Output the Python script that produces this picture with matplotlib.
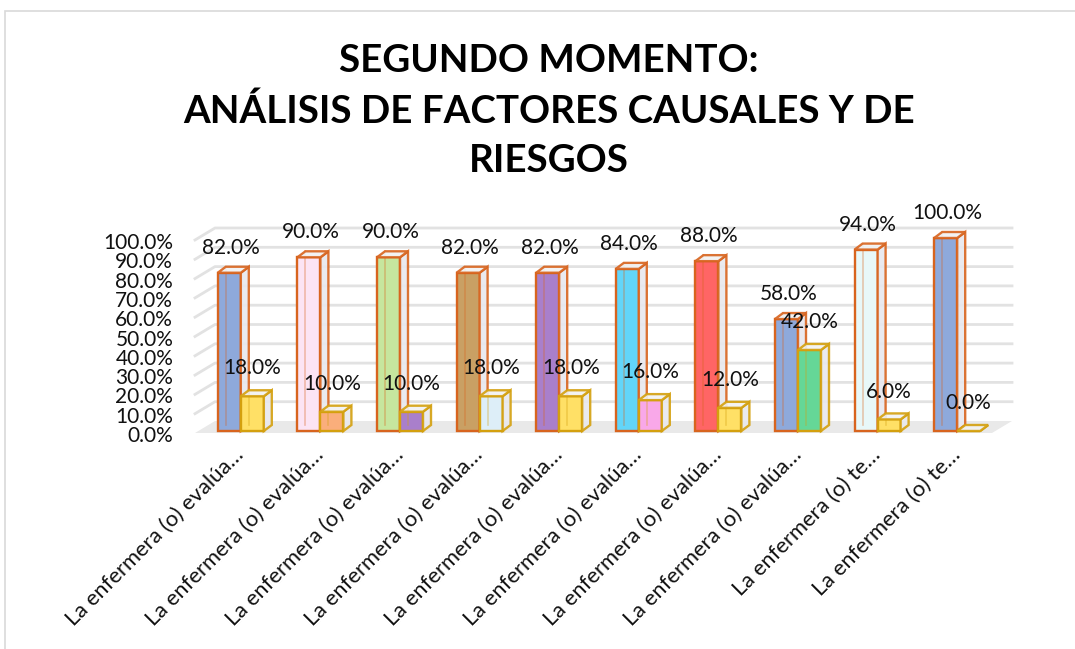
import matplotlib
matplotlib.use("Agg")
import matplotlib.pyplot as plt
from matplotlib.patches import Rectangle, Polygon
from matplotlib.transforms import ScaledTranslation

plt.rcParams['font.family'] = ['Lato', 'DejaVu Sans']

# data
title_lines = ["SEGUNDO MOMENTO:", "ANÁLISIS DE FACTORES CAUSALES Y DE", "RIESGOS"]
categories = ["La enfermera (o) evalúa…"] * 8 + ["La enfermera (o) te…"] * 2
serie_1 = [82, 90, 90, 82, 82, 84, 88, 58, 94, 100]
serie_2 = [18, 10, 10, 18, 18, 16, 12, 42, 6, 0]
y_ticks = [0, 10, 20, 30, 40, 50, 60, 70, 80, 90, 100]

# every bar has its own fill in the original
colors_1 = ["#8EA9DB", "#FCE4F4", "#C6E69E", "#C9A064", "#A97FCB",
            "#62D5F9", "#FF6565", "#8EA9DB", "#E8F8F8", "#8EA9DB"]
colors_2 = ["#FFE066", "#FAAE7B", "#A97FCB", "#DDEEF8", "#FFE066",
            "#F9A8E9", "#FFE066", "#65D797", "#FFE066", "#FFE066"]
edge_1 = "#D8641E"
edge_2 = "#D4A00E"

W_PX, H_PX = 1075, 649
fig = plt.figure(figsize=(W_PX / 100, H_PX / 100), dpi=100)

left, right, bottom, top = 201, 997, 431, 238
ax = fig.add_axes([left / W_PX, (H_PX - bottom) / H_PX,
                   (right - left) / W_PX, (bottom - top) / H_PX])
ax.set_xlim(-0.5, len(categories) - 0.5)
ax.set_ylim(0, 100)

# pixel -> data helpers for the fake 3d depth
px_x = (right - left) / len(categories)
px_y = (bottom - top) / 100.0
def dxu(p):
    return p / px_x
def dyu(p):
    return p / px_y

# floor and back wall grid
xl = -0.5 - dxu(6)
xr = len(categories) - 0.5 - dxu(5)
wx, wy = dxu(20), dyu(12)
floor = Polygon([(xl, -dyu(2)), (xr, -dyu(2)), (xr + wx, wy - dyu(2)), (xl + wx, wy - dyu(2))],
                closed=True, facecolor="#E9E9E9", edgecolor="none", clip_on=False, zorder=0)
ax.add_patch(floor)
for v in y_ticks[1:]:
    ax.plot([xl, xl + wx, xr + wx], [v - dyu(2), v - dyu(2) + wy, v - dyu(2) + wy],
            color="#E2E2E2", lw=2, clip_on=False, zorder=0)

bw = dxu(23)
bx, by = dxu(8), dyu(6)

def draw_box(x0, h, face, edge):
    front = Rectangle((x0, 0), bw, h, facecolor=face, edgecolor=edge, lw=1.7,
                      clip_on=False, zorder=2)
    ax.add_patch(front)
    # hidden edges show through the glassy bars
    ax.plot([x0 + bx, x0 + bx], [by, h + by], color=edge, alpha=0.35, lw=1.2,
            clip_on=False, zorder=2)
    side = Polygon([(x0 + bw, 0), (x0 + bw + bx, by), (x0 + bw + bx, h + by), (x0 + bw, h)],
                   closed=True, facecolor="#E8E8EE", alpha=0.9, edgecolor=edge, lw=1.7,
                   clip_on=False, zorder=2)
    ax.add_patch(side)
    topf = Polygon([(x0, h), (x0 + bx, h + by), (x0 + bw + bx, h + by), (x0 + bw, h)],
                   closed=True, facecolor="#F2F2F2", alpha=0.9, edgecolor=edge, lw=1.7,
                   clip_on=False, zorder=2)
    ax.add_patch(topf)

for i in range(len(categories)):
    draw_box(i - bw, serie_1[i], colors_1[i], edge_1)
    draw_box(i, serie_2[i], colors_2[i], edge_2)

for i in range(len(categories)):
    ax.annotate(f"{serie_1[i]:.1f}%", (i - bw / 2 + dxu(2), serie_1[i]), xytext=(0, 18),
                textcoords="offset points", ha="center", va="center", fontsize=15,
                color="#111111", zorder=5, annotation_clip=False)
    ax.annotate(f"{serie_2[i]:.1f}%", (i + bw / 2, serie_2[i]), xytext=(0, 20),
                textcoords="offset points", ha="center", va="center", fontsize=15,
                color="#111111", zorder=5, annotation_clip=False)

ax.set_yticks(y_ticks)
ax.set_yticklabels([f"{v:.1f}%" for v in y_ticks], fontsize=15, color="#111111")
ax.set_xticks(range(len(categories)))
ax.set_xticklabels(categories, rotation=45, ha="right", va="top",
                   rotation_mode="anchor", fontsize=15.8, color="#111111")
ax.tick_params(axis="y", length=0, pad=20)
ax.tick_params(axis="x", length=0, pad=10)
shift = ScaledTranslation(0, -3 / 100, fig.dpi_scale_trans)
for lab in ax.get_yticklabels():
    lab.set_transform(lab.get_transform() + shift)
shift_x = ScaledTranslation(-7 / 100, 0, fig.dpi_scale_trans)
for lab in ax.get_xticklabels():
    lab.set_transform(lab.get_transform() + shift_x)
for s in ax.spines.values():
    s.set_visible(False)
ax.set_facecolor("none")

fig.text(549 / W_PX, 1 - 111 / H_PX, "\n".join(title_lines), ha="center", va="center",
         fontsize=27.7, fontweight="bold", linespacing=1.53, color="#000000")

fig.add_artist(Rectangle((5 / W_PX, -0.1), 1.2, (H_PX - 11) / H_PX + 0.1,
                         transform=fig.transFigure, fill=False,
                         edgecolor="#D9D9D9", lw=1.2))

fig.savefig("out.png", dpi=100)
